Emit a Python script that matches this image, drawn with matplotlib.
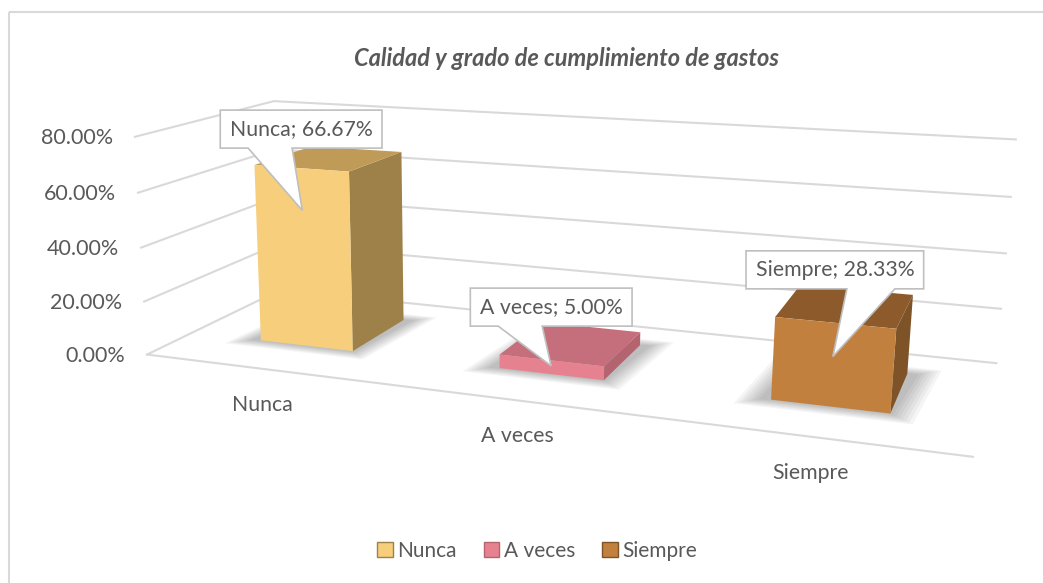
import numpy as np
import matplotlib.pyplot as plt
from matplotlib.patches import Polygon, Rectangle, Patch

categories = ['Nunca', 'A veces', 'Siempre']
values = [66.67, 5.00, 28.33]
ticks = [0, 20, 40, 60, 80]
title = 'Calidad y grado de cumplimiento de gastos'

front_c = ['#F6CE7C', '#E6828F', '#C2803F']
side_c = ['#9E8049', '#B4646F', '#7E5327']
top_c = ['#C09B58', '#C46F7B', '#8D5A2B']

W, H = 1043, 583
TXT = '#595959'
plt.rcParams['font.family'] = ['Lato', 'DejaVu Sans']
fig = plt.figure(figsize=(W / 100, H / 100), dpi=100)
ax = fig.add_axes([0, 0, 1, 1])
ax.set_xlim(0, W)
ax.set_ylim(H, 0)
ax.axis('off')

# perspective camera fitted on the plot box corners
# (category position, depth 0=front 1=back, value in %) -> pixel
ref3d = np.array([[0, 0, 0], [0, 0, 80], [0, 1, 0], [0, 1, 80], [3, 1, 0], [3, 1, 80],
                  [3, 0, 0], [0, 1, 40], [3, 1, 40], [0, 0, 40]], float)
ref2d = np.array([[150, 353], [132, 137], [277, 291], [277, 100], [997, 362], [1015, 140],
                  [973, 458], [277, 198], [1006, 253], [141, 248]], float)
rows = []
for (X, Y, Z), (x, y) in zip(ref3d, ref2d / 1000):
    Z = Z / 80
    rows.append([X, Y, Z, 1, 0, 0, 0, 0, -x * X, -x * Y, -x * Z, -x])
    rows.append([0, 0, 0, 0, X, Y, Z, 1, -y * X, -y * Y, -y * Z, -y])
P = np.linalg.svd(np.array(rows))[2][-1].reshape(3, 4)


def proj(X, Y, Z):
    p = P @ np.array([X, Y, Z / 80, 1])
    return p[0] / p[2] * 1000, p[1] / p[2] * 1000


grid = '#D9D9D9'
# walls and floor
for t in ticks:
    xs, ys = zip(proj(0, 0, t), proj(0, 1, t), proj(3, 1, t))
    ax.plot(xs, ys, color=grid, lw=1.5, zorder=1)
    x, y = proj(0, 0, t)
    ax.text(x - 22, y + 1, f'{t:.2f}%', ha='right', va='center', fontsize=15.5, color=TXT)
xs, ys = zip(proj(0, 0, 0), proj(3, 0, 0))
ax.plot(xs, ys, color=grid, lw=1.5, zorder=1)

bw, d0, d1 = 0.4, 0.31, 0.76
renderer = fig.canvas.get_renderer()
for i, v in enumerate(values):
    x0, x1 = i + 0.31, i + 0.31 + bw
    xc = (x0 + x1) / 2
    # soft shadow on the floor
    for k in range(7):
        e = 0.01 + 0.012 * k
        fp = [proj(x0 - e - 0.03, d0 - e, 0), proj(x1 + e, d0 - e, 0),
              proj(x1 + e + 0.03, d1 + e, 0), proj(x0 - e, d1 + e, 0)]
        ax.add_patch(Polygon(fp, closed=True, fc='black', ec='none', alpha=0.04, zorder=2))
    fr = [proj(x0, d0, 0), proj(x1, d0, 0), proj(x1, d0, v), proj(x0, d0, v)]
    sd = [proj(x1, d0, 0), proj(x1, d1, 0), proj(x1, d1, v), proj(x1, d0, v)]
    tp = [proj(x0, d0, v), proj(x1, d0, v), proj(x1, d1, v), proj(x0, d1, v)]
    ax.add_patch(Polygon(sd, closed=True, fc=side_c[i], ec='none', zorder=3))
    ax.add_patch(Polygon(tp, closed=True, fc=top_c[i], ec='none', zorder=3))
    ax.add_patch(Polygon(fr, closed=True, fc=front_c[i], ec='none', zorder=3))

    # category label under the floor edge
    lx, ly = proj(i + 0.5, 0, 0)
    ax.text(lx, ly + 36, categories[i], ha='center', va='center', fontsize=15.3, color=TXT)

    # data callout
    tx, ty = proj(xc, d0, max(v - 15.5, v * 0.6))
    bx = proj(xc, d0, v)[0]
    bb = proj(xc, d1, v)[1] - 1
    bt = bb - 38
    t = ax.text(bx, (bt + bb) / 2, f'{categories[i]}; {v:.2f}%', ha='center', va='center',
                fontsize=15.3, color=TXT, zorder=6)
    ext = t.get_window_extent(renderer)
    L, R = ext.x0 - 9.5, ext.x1 + 9.5
    if tx < 561:
        a, b = bx - 53, bx - 9
    else:
        a, b = bx + 12, bx + 60
    pts = [(L, bt), (R, bt), (R, bb), (b, bb), (tx, ty), (a, bb), (L, bb)]
    ax.add_patch(Polygon(pts, closed=True, fc='white', ec='#BFBFBF', lw=1.2, zorder=5))

ax.text(567, 58, title, ha='center', va='center', fontsize=17, fontweight='bold',
        style='italic', color=TXT)

handles = [Patch(fc=front_c[i], ec=side_c[i], lw=1) for i in range(3)]
fig.legend(handles, categories, loc='center', bbox_to_anchor=(537 / W, 1 - 551 / H), ncol=3,
           frameon=False, fontsize=15, handlelength=0.75, handleheight=0.75,
           handletextpad=0.2, columnspacing=1.3, labelcolor=TXT)

ax.add_patch(Rectangle((9, 12), W, H, fill=False, ec='#D9D9D9', lw=1.5))

fig.savefig('out.png', dpi=100)
